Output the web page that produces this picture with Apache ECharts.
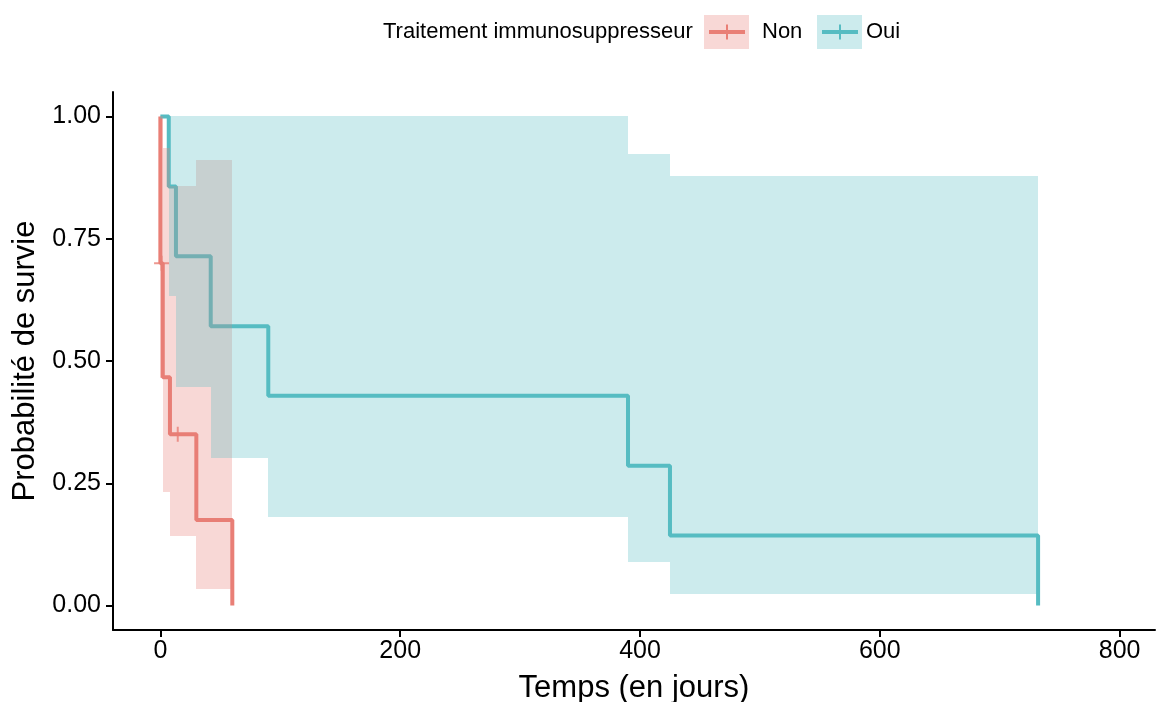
<!DOCTYPE html>
<html>
<head>
<meta charset="utf-8">
<script src="https://cdn.jsdelivr.net/npm/echarts@6/dist/echarts.min.js"></script>
<style>
  html, body { margin: 0; padding: 0; background: #fff; }
  #chart { width: 1158px; height: 702px; }
</style>
</head>
<body>
<div id="chart"></div>
<script>
// ---- Data (Kaplan-Meier estimates with 95% CI) ----
// Group "Non"
const nonTime  = [0, 0, 2, 8, 30, 60];
const nonSurv  = [1, 0.70, 0.467, 0.35, 0.175, 0];
const nonLower = [1, 0.466, 0.233, 0.143, 0.034];
const nonUpper = [1, 1.0, 0.936, 0.857, 0.910];
const nonCensorTime = [1, 14.5];
const nonCensorSurv = [0.70, 0.35];

// Group "Oui"
const ouiTime  = [0, 7, 13, 42, 90, 390, 425, 732];
const ouiSurv  = [1, 0.857, 0.714, 0.571, 0.429, 0.286, 0.143, 0];
const ouiLower = [1, 0.633, 0.447, 0.301, 0.182, 0.089, 0.023];
const ouiUpper = [1, 1.0, 1.0, 1.0, 1.0, 0.923, 0.878];

// Axis ticks
const xTicks = [0, 200, 400, 600, 800];
const yTicks = [0, 0.25, 0.5, 0.75, 1];

const legendTitle = 'Traitement immunosuppresseur';
const groupNames = ['Non', 'Oui'];

// ---- styles ----
const redLine = '#E97F76';
const tealLine = '#56BCC2';
const redBand = 'rgba(233,127,118,0.3)';
const tealBand = 'rgba(86,188,194,0.3)';
const FONT = 'Liberation Sans, Arial, Helvetica, sans-serif';

function curve(time, surv) {
  return time.map((t, i) => [t, surv[i]]);
}
// band segments: [tStart, tEnd, lower, upper]
function bandSegments(time, lower, upper) {
  return lower.map((v, i) => [time[i], time[i + 1], v, upper[i]]);
}
function bandRender(fill) {
  return function (params, api) {
    const a = api.coord([api.value(0), api.value(3)]);
    const b = api.coord([api.value(1), api.value(2)]);
    const x0 = Math.round(a[0]), x1 = Math.round(b[0]);
    const y0 = Math.round(a[1]), y1 = Math.round(b[1]);
    if (x1 - x0 <= 0 || y1 - y0 <= 0) return null;
    return {
      type: 'rect',
      shape: { x: x0, y: y0, width: x1 - x0, height: y1 - y0 },
      style: { fill: fill }
    };
  };
}

const chart = echarts.init(document.getElementById('chart'), null, { renderer: 'canvas' });

const axisLineStyle = { color: '#000', width: 2 };
const plusSymbol = 'path://M0,-7 L0,7 M-7,0 L7,0';

const option = {
  animation: false,
  backgroundColor: '#fff',
  textStyle: { fontFamily: FONT },
  grid: { left: 113, right: 3, top: 92, bottom: 72, containLabel: false, outerBoundsMode: 'none' },
  xAxis: {
    type: 'value',
    min: -39.5,
    max: 829.5,
    name: 'Temps (en jours)',
    nameLocation: 'middle',
    nameGap: 43,
    nameTextStyle: { fontSize: 31, color: '#000', fontFamily: FONT },
    axisLine: { show: true, onZero: false, lineStyle: axisLineStyle },
    axisTick: { show: true, length: 7, lineStyle: axisLineStyle, customValues: xTicks },
    axisLabel: { show: true, fontSize: 25, color: '#000', margin: 9, fontFamily: FONT, customValues: xTicks },
    splitLine: { show: false }
  },
  yAxis: {
    type: 'value',
    min: -0.05,
    max: 1.05,
    name: 'Probabilité de survie',
    nameLocation: 'middle',
    nameGap: 68,
    nameTextStyle: { fontSize: 31, color: '#000', fontFamily: FONT },
    axisLine: { show: true, onZero: false, lineStyle: axisLineStyle },
    axisTick: { show: true, length: 7, lineStyle: axisLineStyle, customValues: yTicks },
    axisLabel: {
      show: true, fontSize: 25, color: '#000', margin: 12, fontFamily: FONT,
      customValues: yTicks,
      formatter: v => Number(v).toFixed(2)
    },
    splitLine: { show: false }
  },
  series: [
    // curves (drawn under the bands, as in the reference)
    {
      name: groupNames[0], type: 'line', step: 'end', z: 2,
      data: curve(nonTime, nonSurv), showSymbol: false,
      lineStyle: { color: redLine, width: 4 }, itemStyle: { color: redLine }
    },
    {
      name: groupNames[1], type: 'line', step: 'end', z: 2,
      data: curve(ouiTime, ouiSurv), showSymbol: false,
      lineStyle: { color: tealLine, width: 4 }, itemStyle: { color: tealLine }
    },
    {
      name: groupNames[0] + ' (censure)', type: 'scatter', z: 2,
      data: nonCensorTime.map((t, i) => [t, nonCensorSurv[i]]),
      symbol: plusSymbol, symbolSize: 15,
      itemStyle: { color: 'none', borderColor: redLine, borderWidth: 2 }
    },
    // confidence bands: "Non" first, then "Oui" on top
    {
      type: 'custom', z: 3, silent: true,
      data: bandSegments(nonTime, nonLower, nonUpper),
      renderItem: bandRender(redBand),
      encode: { x: [0, 1], y: [2, 3] }
    },
    {
      type: 'custom', z: 3, silent: true,
      data: bandSegments(ouiTime, ouiLower, ouiUpper),
      renderItem: bandRender(tealBand),
      encode: { x: [0, 1], y: [2, 3] }
    }
  ],
  graphic: [
    { type: 'text', left: 383, top: 21, style: { text: legendTitle, fontSize: 22, fill: '#000', fontFamily: FONT } },
    { type: 'rect', shape: { x: 704, y: 15, width: 45, height: 34 }, style: { fill: redBand } },
    { type: 'line', shape: { x1: 709, y1: 32, x2: 745, y2: 32 }, style: { stroke: redLine, lineWidth: 4 } },
    { type: 'line', shape: { x1: 727, y1: 24.5, x2: 727, y2: 39.5 }, style: { stroke: redLine, lineWidth: 2 } },
    { type: 'text', left: 762, top: 21, style: { text: groupNames[0], fontSize: 22, fill: '#000', fontFamily: FONT } },
    { type: 'rect', shape: { x: 817, y: 15, width: 45, height: 34 }, style: { fill: tealBand } },
    { type: 'line', shape: { x1: 822, y1: 32, x2: 858, y2: 32 }, style: { stroke: tealLine, lineWidth: 4 } },
    { type: 'line', shape: { x1: 840, y1: 24.5, x2: 840, y2: 39.5 }, style: { stroke: tealLine, lineWidth: 2 } },
    { type: 'text', left: 866, top: 21, style: { text: groupNames[1], fontSize: 22, fill: '#000', fontFamily: FONT } }
  ]
};

chart.setOption(option);
</script>
</body>
</html>
